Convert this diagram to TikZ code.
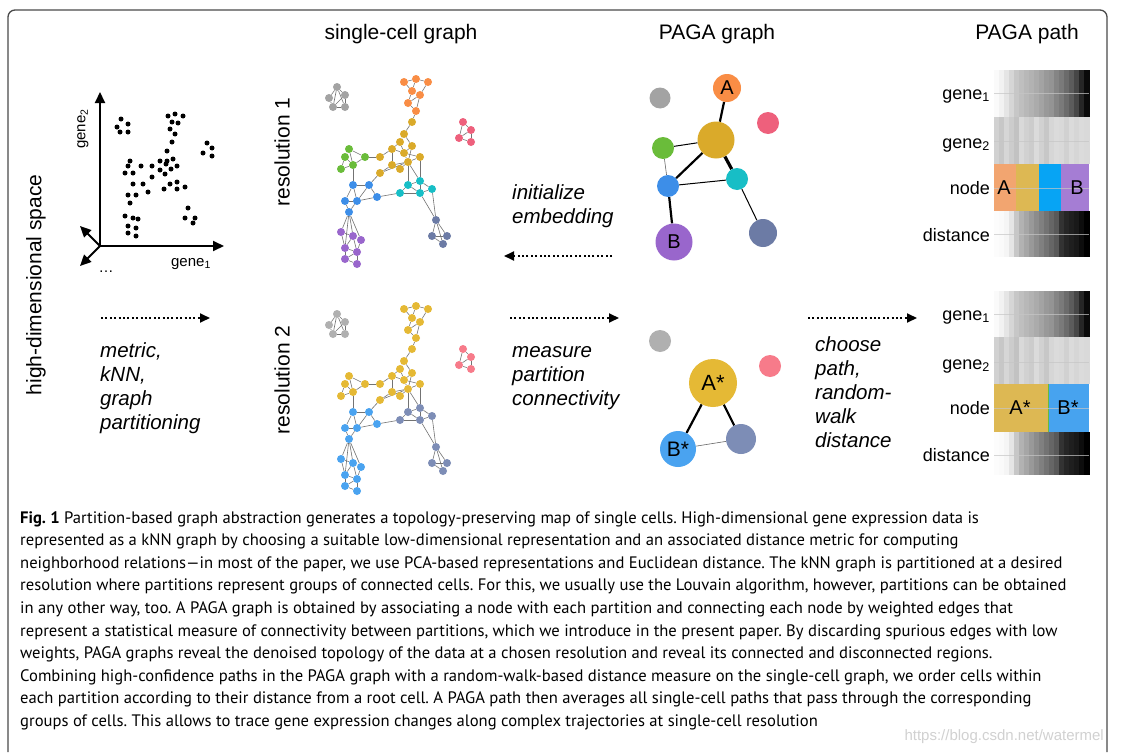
\documentclass[tikz,border=0pt]{standalone}
\usepackage{fontspec}
\setmainfont{Liberation Sans}
\newfontfamily\capfont{PT Sans}
\usetikzlibrary{arrows.meta}
\pgfdeclarelayer{back}
\pgfdeclarelayer{bg}
\pgfsetlayers{back,bg,main}

\definecolor{corange}{HTML}{F98D45}
\definecolor{cgold}{HTML}{DAAA2A}
\definecolor{cgreen}{HTML}{6ABC3A}
\definecolor{cblue}{HTML}{3D8EE8}
\definecolor{cpurple}{HTML}{9966CC}
\definecolor{ccyan}{HTML}{17BEC6}
\definecolor{cslate}{HTML}{6C7BA5}
\definecolor{cgrayA}{HTML}{A3A3A3}
\definecolor{cpinkA}{HTML}{EE607C}
\definecolor{dgold}{HTML}{E5B935}
\definecolor{dblue}{HTML}{4AA3F0}
\definecolor{dslate}{HTML}{7D8DB6}
\definecolor{cgrayB}{HTML}{B0B0B0}
\definecolor{cpinkB}{HTML}{F77B8A}
\definecolor{horange}{HTML}{F2A570}
\definecolor{hgold}{HTML}{DDB853}
\definecolor{hblue}{HTML}{07A4F4}
\definecolor{hpurple}{HTML}{A57DD4}
\definecolor{hblue2}{HTML}{47A3EF}
\definecolor{framec}{HTML}{4A4A4A}

\tikzset{
  cell/.style={circle, inner sep=0pt, minimum size=8pt, draw=none},
  cedge/.style={draw=black!55, line width=0.6pt},
  sdot/.style={circle, fill=black, inner sep=0pt, minimum size=5pt},
  axisarrow/.style={line width=2pt, -{Triangle[length=11pt,width=10pt]}},
  dotarrow/.style={line width=1.8pt, dash pattern=on 2pt off 2.4pt, -{Triangle[length=10pt,width=9pt]}},
  titletext/.style={font=\fontsize{21}{25}\selectfont, inner sep=0pt},
  itl/.style={font=\fontsize{20.5}{24}\selectfont\itshape, anchor=base west, inner sep=0pt},
  hlab/.style={font=\fontsize{18}{22}\selectfont, anchor=base east, inner sep=0pt},
  pnode/.style={circle, inner sep=0pt, draw=none},
  plab/.style={font=\fontsize{20}{24}\selectfont},
  capline/.style={font=\capfont\fontsize{16.6}{20}\selectfont\frenchspacing, anchor=base west, inner sep=0pt},
  midline/.style={draw=gray!45, opacity=0.7, line width=0.8pt},
  pedge/.style={draw=black},
}

% single-cell graph: #1 prefix, #2 orange, #3 gold, #4 green, #5 blue, #6 purple, #7 cyan, #8 slate
\newcommand{\cellgraph}[8]{%
  \foreach \n/\x/\y in {g1/337/87,g2/345/95,g3/329/98,g4/333/107,g5/345/107}
    \node[cell,fill=curgray] (#1\n) at (\x,\y) {};
  \foreach \n/\x/\y in {o1/404/82,o2/416/79,o3/428/82,o4/412/91,o5/420/95,o6/408/103,o7/416/111}
    \node[cell,fill=#2] (#1\n) at (\x,\y) {};
  \foreach \n/\x/\y in {y1/412/122,y2/404/134,y3/400/142,y4/412/146,y5/392/149,y6/404/153,y7/380/157,y8/392/165,y9/400/169,y10/408/162,y11/420/157,y12/380/173}
    \node[cell,fill=#3] (#1\n) at (\x,\y) {};
  \foreach \n/\x/\y in {n1/349/149,n2/345/157,n3/365/157,n4/353/165,n5/341/169}
    \node[cell,fill=#4] (#1\n) at (\x,\y) {};
  \foreach \n/\x/\y in {p1/463/122,p2/471/130,p3/459/138,p4/471/142}
    \node[cell,fill=curpink] (#1\n) at (\x,\y) {};
  \foreach \n/\x/\y in {b1/353/185,b2/369/185,b3/345/201,b4/357/201,b5/377/197,b6/349/212}
    \node[cell,fill=#5] (#1\n) at (\x,\y) {};
  \foreach \n/\x/\y in {c1/408/185,c2/420/181,c3/400/193,c4/420/193,c5/432/189}
    \node[cell,fill=#7] (#1\n) at (\x,\y) {};
  \foreach \n/\x/\y in {u1/341/232,u2/353/236,u3/361/240,u4/345/248,u5/357/252,u6/345/259,u7/357/264}
    \node[cell,fill=#6] (#1\n) at (\x,\y) {};
  \foreach \n/\x/\y in {s1/436/220,s2/432/236,s3/447/236,s4/443/244}
    \node[cell,fill=#8] (#1\n) at (\x,\y) {};
  \begin{pgfonlayer}{bg}
  \foreach \a/\b in {g1/g2,g1/g3,g1/g4,g1/g5,g2/g5,g3/g4,g4/g5,g2/g4,
    o1/o2,o2/o3,o1/o4,o2/o4,o3/o5,o4/o5,o4/o6,o5/o6,o5/o7,o6/o7,o7/y1,
    y1/y2,y2/y3,y2/y4,y3/y5,y3/y6,y4/y6,y4/y10,y5/y6,y5/y7,y5/y8,y6/y10,y8/y9,y8/y10,y9/y10,y10/y11,y6/y11,y12/y10,y12/y8,
    n1/n2,n1/n3,n2/n4,n2/n5,n5/n4,n4/n3,n1/n4,n3/y7,
    n4/b1,b1/b2,b1/b3,b1/b4,b2/b4,b2/b5,b3/b4,b4/b5,b3/b6,b4/b6,b2/y12,b5/c3,
    c1/c2,c1/c3,c3/c4,c1/c4,c2/c5,c4/c5,c2/c4,c1/y10,y10/c2,y11/c2,c4/s1,c5/s1,
    s1/s2,s1/s3,s1/s4,s2/s3,s2/s4,s3/s4,
    b6/u1,b6/u2,b6/u3,b6/u4,u1/u2,u2/u3,u1/u4,u2/u4,u3/u5,u4/u5,u4/u6,u5/u6,u5/u7,u6/u7,u2/u5,
    p1/p2,p1/p3,p2/p4,p3/p4,p3/p2}
    \draw[cedge] (#1\a) -- (#1\b);
  \end{pgfonlayer}
}

% heatmap strip row: #1 top y, #2 height, #3 list of black percentages (19 values)
\newcommand{\heatrow}[3]{%
  \foreach \v [count=\i from 0] in {#3}
    \fill[black!\v] ({994+5*\i},#1) rectangle ({999.5+5*\i},{#1+#2});
}

\begin{document}
\begin{tikzpicture}[x=1pt,y=-1pt]
\useasboundingbox (0,0) rectangle (1121,752);
\begin{pgfonlayer}{back}
\fill[white] (0,0) rectangle (1121,752);
\end{pgfonlayer}

% frame
\draw[framec, line width=1.3pt, rounded corners=7pt] (8,752) -- (8,10) -- (1107,10) -- (1107,752);

% titles
\node[titletext, anchor=base] (t1) at (401,40) {single-cell graph};
\node[titletext, anchor=base] (t2) at (717,40) {PAGA graph};
\node[titletext, anchor=base] (t3) at (1027,40) {PAGA path};

% left vertical label
\node[titletext, rotate=90] (hds) at (36,285) {high-dimensional space};

% scatter plot
\coordinate (O) at (100,246);
\coordinate (ytip) at (100,92);
\coordinate (xtip) at (224,246);
\coordinate (ultip) at (80,226);
\coordinate (lltip) at (80,266);
\draw[axisarrow] (O) -- (ytip);
\draw[axisarrow] (O) -- (xtip);
\draw[axisarrow] (O) -- (ultip);
\draw[axisarrow] (O) -- (lltip);
\node[font=\fontsize{15}{18}\selectfont, rotate=90] (g2lab) at (83,129) {gene\textsubscript{2}};
\node[font=\fontsize{15}{18}\selectfont] (g1lab) at (191,264) {gene\textsubscript{1}};
\node[font=\fontsize{15}{18}\selectfont, anchor=base] (dots) at (106,272) {\dots};
\foreach \x/\y [count=\i] in {121/119,117/127,128/124,120/132,128/132,
  168/116,175/114,183/116,172/122,178/123,170/129,175/134,172/142,
  207/143,212/148,203/153,212/156,
  167/151,160/161,167/161,173/159,166/164,177/166,171/169,160/170,165/174,152/166,152/177,141/166,130/161,128/166,125/173,133/173,143/184,133/184,148/192,164/189,170/184,177/182,177/189,185/187,
  128/195,136/195,130/203,
  125/216,133/218,138/219,128/226,136/228,128/233,136/236,
  188/208,185/218,195/218,193/223}
  \node[sdot] (d\i) at (\x,\y) {};

% arrows and italic labels
\coordinate (a1s) at (101,318); \coordinate (a1e) at (210,318);
\draw[dotarrow] (a1s) -- (a1e);
\foreach \t [count=\i from 0] in {{metric,},{kNN,},graph,partitioning}
  \node[itl] (ml\i) at (100,{357+24*\i}) {\t};

\coordinate (a2s) at (612,256); \coordinate (a2e) at (504,256);
\draw[dotarrow] (a2s) -- (a2e);
\foreach \t [count=\i from 0] in {initialize,embedding}
  \node[itl] (il\i) at (512,{199+24*\i}) {\t};

\coordinate (a3s) at (510,318); \coordinate (a3e) at (619,318);
\draw[dotarrow] (a3s) -- (a3e);
\foreach \t [count=\i from 0] in {measure,partition,connectivity}
  \node[itl] (pl\i) at (512,{357+24*\i}) {\t};

\coordinate (a4s) at (808,318); \coordinate (a4e) at (917,318);
\draw[dotarrow] (a4s) -- (a4e);
\foreach \t [count=\i from 0] in {choose,{path,},random-,walk,distance}
  \node[itl] (cl\i) at (815,{351+24*\i}) {\t};

% resolution labels
\node[titletext, rotate=90] (res1) at (282,152) {resolution 1};
\node[titletext, rotate=90] (res2) at (282,380) {resolution 2};

% single-cell graphs
\begin{scope}
\colorlet{curgray}{cgrayA}\colorlet{curpink}{cpinkA}
\cellgraph{ra}{corange}{cgold}{cgreen}{cblue}{cpurple}{ccyan}{cslate}
\end{scope}
\begin{scope}[shift={(0,227)}]
\colorlet{curgray}{cgrayB}\colorlet{curpink}{cpinkB}
\cellgraph{rb}{dgold}{dgold}{dgold}{dblue}{dblue}{dslate}{dslate}
\end{scope}

% PAGA graph 1
\node[pnode, fill=cgrayA, minimum size=21pt] (qgray) at (660,98) {};
\node[pnode, fill=corange, minimum size=28pt, plab] (qA) at (727,88) {A};
\node[pnode, fill=cpinkA, minimum size=22pt] (qpink) at (768,123) {};
\node[pnode, fill=cgold, minimum size=37pt] (qY) at (716,140) {};
\node[pnode, fill=cgreen, minimum size=22pt] (qG) at (663,148) {};
\node[pnode, fill=cblue, minimum size=22pt] (qBl) at (668,186) {};
\node[pnode, fill=ccyan, minimum size=22pt] (qC) at (737,179) {};
\node[pnode, fill=cpurple, minimum size=37pt, plab] (qB) at (674,242) {B};
\node[pnode, fill=cslate, minimum size=28pt] (qS) at (763,233) {};
\begin{pgfonlayer}{bg}
\draw[pedge, line width=2.2pt] (qA) -- (qY);
\draw[pedge, line width=1pt] (qY) -- (qG);
\draw[pedge, line width=2.2pt] (qY) -- (qBl);
\draw[pedge, line width=3.2pt] (qY) -- (qC);
\draw[pedge, draw=black!60, line width=0.6pt] (qG) -- (qBl);
\draw[pedge, line width=1pt] (qBl) -- (qC);
\draw[pedge, line width=2.2pt] (qBl) -- (qB);
\draw[pedge, line width=1pt] (qC) -- (qS);
\end{pgfonlayer}

% PAGA graph 2
\node[pnode, fill=cgrayB, minimum size=22pt] (rgray) at (660,341) {};
\node[pnode, fill=cpinkB, minimum size=22pt] (rpink) at (770,366) {};
\node[pnode, fill=dgold, minimum size=48pt, font=\fontsize{22}{26}\selectfont] (rA) at (713,383) {A*};
\node[pnode, fill=dblue, minimum size=36pt, font=\fontsize{21}{25}\selectfont] (rB) at (678,449) {B*};
\node[pnode, fill=dslate, minimum size=30pt] (rS) at (741,439) {};
\begin{pgfonlayer}{bg}
\draw[pedge, line width=2.2pt] (rA) -- (rB);
\draw[pedge, line width=2.2pt] (rA) -- (rS);
\draw[pedge, draw=black!60, line width=0.6pt] (rB) -- (rS);
\end{pgfonlayer}

% PAGA path panel 1
\heatrow{70}{47}{2,5,10,16,22,25,28,30,33,36,40,42,48,52,58,64,72,85,96}
\heatrow{117}{47}{18,22,16,20,24,15,18,20,14,18,22,16,14,15,18,14,16,14,15}
\fill[horange] (994,164) rectangle (1016,211);
\fill[hgold] (1016,164) rectangle (1039,211);
\fill[hblue] (1039,164) rectangle (1061,211);
\fill[hpurple] (1061,164) rectangle (1089,211);
\heatrow{211}{46}{1,2,4,10,22,30,35,40,45,50,55,60,65,80,85,88,90,95,100}
\foreach \yy [count=\i] in {93,141,188,234}
  \draw[midline] (994,\yy) -- (1089,\yy);
\node[plab] (hA) at (1004,188) {A};
\node[plab] (hB) at (1077,188) {B};
\node[hlab] (l11) at (990,99) {gene\textsubscript{1}};
\node[hlab] (l12) at (990,148) {gene\textsubscript{2}};
\node[hlab] (l13) at (990,194) {node};
\node[hlab] (l14) at (990,241) {distance};

% PAGA path panel 2
\heatrow{291}{46}{2,5,10,16,22,25,28,30,33,36,40,42,48,52,58,64,72,85,96}
\heatrow{337}{47}{18,22,16,20,24,15,18,20,14,18,22,16,14,15,18,14,16,14,15}
\fill[hgold] (994,384) rectangle (1048,432);
\fill[hblue2] (1048,384) rectangle (1089,432);
\draw[cgreen, line width=0.8pt] (1048,384) -- (1048,432);
\heatrow{432}{43}{1,2,4,10,22,30,35,40,45,50,55,60,65,80,85,88,90,95,100}
\foreach \yy [count=\i] in {314,362,408,455}
  \draw[midline] (994,\yy) -- (1089,\yy);
\node[plab] (hA2) at (1020,408) {A*};
\node[plab] (hB2) at (1068,408) {B*};
\node[hlab] (l21) at (990,320) {gene\textsubscript{1}};
\node[hlab] (l22) at (990,369) {gene\textsubscript{2}};
\node[hlab] (l23) at (990,414) {node};
\node[hlab] (l24) at (990,461) {distance};

% caption
\node[capline] (cap1) at (20,523) {\textbf{Fig. 1} Partition-based graph abstraction generates a topology-preserving map of single cells. High-dimensional gene expression data is};
\node[capline] (cap2) at (20,545.6) {represented as a kNN graph by choosing a suitable low-dimensional representation and an associated distance metric for computing};
\node[capline] (cap3) at (20,568.2) {neighborhood relations—in most of the paper, we use PCA-based representations and Euclidean distance. The kNN graph is partitioned at a desired};
\node[capline] (cap4) at (20,590.8) {resolution where partitions represent groups of connected cells. For this, we usually use the Louvain algorithm, however, partitions can be obtained};
\node[capline] (cap5) at (20,613.4) {in any other way, too. A PAGA graph is obtained by associating a node with each partition and connecting each node by weighted edges that};
\node[capline] (cap6) at (20,636) {represent a statistical measure of connectivity between partitions, which we introduce in the present paper. By discarding spurious edges with low};
\node[capline] (cap7) at (20,658.6) {weights, PAGA graphs reveal the denoised topology of the data at a chosen resolution and reveal its connected and disconnected regions.};
\node[capline] (cap8) at (20,681.2) {Combining high-confidence paths in the PAGA graph with a random-walk-based distance measure on the single-cell graph, we order cells within};
\node[capline] (cap9) at (20,703.8) {each partition according to their distance from a root cell. A PAGA path then averages all single-cell paths that pass through the corresponding};
\node[capline] (cap10) at (20,726.4) {groups of cells. This allows to trace gene expression changes along complex trajectories at single-cell resolution};
\node[font=\fontsize{15}{18}\selectfont, text=black!18, anchor=base east, inner sep=0pt] (wm) at (1104,740) {https://blog.csdn.net/watermel};
\end{tikzpicture}
\end{document}
